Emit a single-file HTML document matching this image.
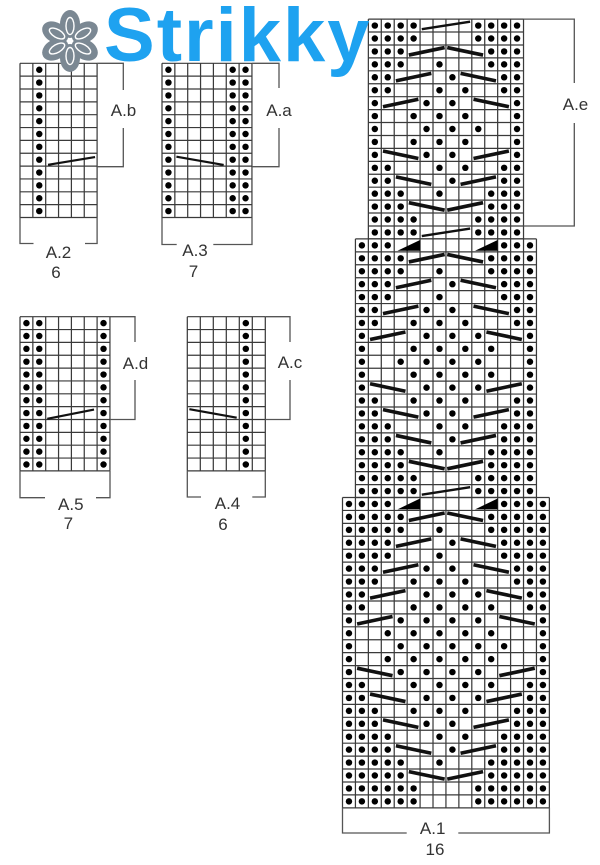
<!DOCTYPE html>
<html>
<head>
<meta charset="utf-8">
<style>
html,body{margin:0;padding:0;background:#fff;}
svg{display:block;}
.g{fill:none;stroke:#3a3a3a;stroke-width:.095}
.c{fill:none;stroke:#111;stroke-width:.28}
.t{fill:none;stroke:#111;stroke-width:.18}
.s{fill:none;stroke:#111;stroke-width:.17}
.b{fill:none;stroke:#555;stroke-width:1.3}
.lb{font-family:"Liberation Sans",Arial,sans-serif;font-size:17px;fill:#333;text-anchor:middle}
</style>
</head>
<body>
<svg width="600" height="865" viewBox="0 0 600 865" xmlns="http://www.w3.org/2000/svg">
<rect width="600" height="865" fill="#fff"/>
<defs>
<path id="g6" d="M0 0H6M0 1H6M0 2H6M0 3H6M0 4H6M0 5H6M0 6H6M0 7H6M0 8H6M0 9H6M0 10H6M0 11H6M0 12H6M0 0V12M1 0V12M2 0V12M3 0V12M4 0V12M5 0V12M6 0V12"/>
<path id="g7" d="M0 0H7M0 1H7M0 2H7M0 3H7M0 4H7M0 5H7M0 6H7M0 7H7M0 8H7M0 9H7M0 10H7M0 11H7M0 12H7M0 0V12M1 0V12M2 0V12M3 0V12M4 0V12M5 0V12M6 0V12M7 0V12"/>
<g id="col"><circle cx="0" cy=".5" r=".25"/><circle cx="0" cy="1.5" r=".25"/><circle cx="0" cy="2.5" r=".25"/><circle cx="0" cy="3.5" r=".25"/><circle cx="0" cy="4.5" r=".25"/><circle cx="0" cy="5.5" r=".25"/><circle cx="0" cy="6.5" r=".25"/><circle cx="0" cy="7.5" r=".25"/><circle cx="0" cy="8.5" r=".25"/><circle cx="0" cy="9.5" r=".25"/><circle cx="0" cy="10.5" r=".25"/><circle cx="0" cy="11.5" r=".25"/></g>
</defs>

<!-- A.2 -->
<g transform="translate(20,63.3) scale(12.85)">
<use href="#g6" class="g"/>
<use href="#col" x="1.5"/>
<path class="s" d="M2.18 7.9L5.84 7.3"/>
</g>
<path class="b" d="M97.1 63.3H123.3V90M123.3 128V166.7H97.1"/>
<text class="lb" x="123.5" y="116">A.b</text>
<path class="b" d="M20 217.5V243.5H33.5M85 243.5H97.1V217.5"/>
<text class="lb" x="58.5" y="258">A.2</text>
<text class="lb" x="56" y="278">6</text>

<!-- A.3 -->
<g transform="translate(162,63.3) scale(12.85)">
<use href="#g7" class="g"/>
<use href="#col" x=".5"/><use href="#col" x="5.5"/><use href="#col" x="6.5"/>
<path class="s" d="M1.12 7.27L4.8 7.91"/>
</g>
<path class="b" d="M252 63.3H279V88M279 128V166.7H252"/>
<text class="lb" x="279" y="116">A.a</text>
<path class="b" d="M162 217.5V244.5H176.7M213.3 244.5H252V217.5"/>
<text class="lb" x="195" y="256">A.3</text>
<text class="lb" x="193.5" y="277">7</text>

<!-- A.5 -->
<g transform="translate(20,316.7) scale(12.85)">
<use href="#g7" class="g"/>
<use href="#col" x=".5"/><use href="#col" x="1.5"/><use href="#col" x="6.5"/>
<path class="s" d="M2.12 7.95L5.76 7.23"/>
</g>
<path class="b" d="M110 316.7H135V342M135 380V419.5H110"/>
<text class="lb" x="135.5" y="369">A.d</text>
<path class="b" d="M20 470.9V497.7H45M96 497.7H110V470.9"/>
<text class="lb" x="70.8" y="510">A.5</text>
<text class="lb" x="68.3" y="529">7</text>

<!-- A.4 -->
<g transform="translate(187.3,316.7) scale(13,12.85)">
<use href="#g6" class="g"/>
<use href="#col" x="4.5"/>
<path class="s" d="M.16 7.2L3.8 7.86"/>
</g>
<path class="b" d="M265.3 316.7H290V342M290 380V419.5H265.3"/>
<text class="lb" x="290" y="368">A.c</text>
<path class="b" d="M187.3 470.9V497H201M252.3 497H265.3V470.9"/>
<text class="lb" x="227.5" y="509">A.4</text>
<text class="lb" x="223" y="530">6</text>

<!-- A.1 big chart -->
<g transform="translate(342.5,19.1) scale(12.93)">
<path class="g" d="M2 0H14M2 1H14M2 2H14M2 3H14M2 4H14M2 5H14M2 6H14M2 7H14M2 8H14M2 9H14M2 10H14M2 11H14M2 12H14M2 13H14M2 14H14M2 15H14M2 16H14M2 17H14M2 0V17M3 0V17M4 0V17M5 0V17M6 0V17M7 0V17M8 0V17M9 0V17M10 0V17M11 0V17M12 0V17M13 0V17M14 0V17"/>
<path class="g" d="M1 17H15M1 18H15M1 19H15M1 20H15M1 21H15M1 22H15M1 23H15M1 24H15M1 25H15M1 26H15M1 27H15M1 28H15M1 29H15M1 30H15M1 31H15M1 32H15M1 33H15M1 34H15M1 35H15M1 36H15M1 37H15M1 17V37M2 17V37M3 17V37M4 17V37M5 17V37M6 17V37M7 17V37M8 17V37M9 17V37M10 17V37M11 17V37M12 17V37M13 17V37M14 17V37M15 17V37"/>
<path class="g" d="M0 37H16M0 38H16M0 39H16M0 40H16M0 41H16M0 42H16M0 43H16M0 44H16M0 45H16M0 46H16M0 47H16M0 48H16M0 49H16M0 50H16M0 51H16M0 52H16M0 53H16M0 54H16M0 55H16M0 56H16M0 57H16M0 58H16M0 59H16M0 60H16M0 61H16M0 37V61M1 37V61M2 37V61M3 37V61M4 37V61M5 37V61M6 37V61M7 37V61M8 37V61M9 37V61M10 37V61M11 37V61M12 37V61M13 37V61M14 37V61M15 37V61M16 37V61"/>
<g fill="#000">
<!-- top section -->
<circle cx="2.5" cy=".5" r=".25"/><circle cx="3.5" cy=".5" r=".25"/><circle cx="4.5" cy=".5" r=".25"/><circle cx="5.5" cy=".5" r=".25"/><circle cx="10.5" cy=".5" r=".25"/><circle cx="11.5" cy=".5" r=".25"/><circle cx="12.5" cy=".5" r=".25"/><circle cx="13.5" cy=".5" r=".25"/>
<circle cx="2.5" cy="1.5" r=".25"/><circle cx="3.5" cy="1.5" r=".25"/><circle cx="4.5" cy="1.5" r=".25"/><circle cx="5.5" cy="1.5" r=".25"/><circle cx="10.5" cy="1.5" r=".25"/><circle cx="11.5" cy="1.5" r=".25"/><circle cx="12.5" cy="1.5" r=".25"/><circle cx="13.5" cy="1.5" r=".25"/>
<circle cx="2.5" cy="2.5" r=".25"/><circle cx="3.5" cy="2.5" r=".25"/><circle cx="4.5" cy="2.5" r=".25"/><circle cx="11.5" cy="2.5" r=".25"/><circle cx="12.5" cy="2.5" r=".25"/><circle cx="13.5" cy="2.5" r=".25"/>
<circle cx="2.5" cy="3.5" r=".25"/><circle cx="3.5" cy="3.5" r=".25"/><circle cx="4.5" cy="3.5" r=".25"/><circle cx="7.5" cy="3.5" r=".25"/><circle cx="11.5" cy="3.5" r=".25"/><circle cx="12.5" cy="3.5" r=".25"/><circle cx="13.5" cy="3.5" r=".25"/>
<circle cx="2.5" cy="4.5" r=".25"/><circle cx="3.5" cy="4.5" r=".25"/><circle cx="8.5" cy="4.5" r=".25"/><circle cx="12.5" cy="4.5" r=".25"/><circle cx="13.5" cy="4.5" r=".25"/>
<circle cx="2.5" cy="5.5" r=".25"/><circle cx="3.5" cy="5.5" r=".25"/><circle cx="7.5" cy="5.5" r=".25"/><circle cx="9.5" cy="5.5" r=".25"/><circle cx="12.5" cy="5.5" r=".25"/><circle cx="13.5" cy="5.5" r=".25"/>
<circle cx="2.5" cy="6.5" r=".25"/><circle cx="6.5" cy="6.5" r=".25"/><circle cx="8.5" cy="6.5" r=".25"/><circle cx="13.5" cy="6.5" r=".25"/>
<circle cx="2.5" cy="7.5" r=".25"/><circle cx="5.5" cy="7.5" r=".25"/><circle cx="7.5" cy="7.5" r=".25"/><circle cx="9.5" cy="7.5" r=".25"/><circle cx="13.5" cy="7.5" r=".25"/>
<circle cx="2.5" cy="8.5" r=".25"/><circle cx="6.5" cy="8.5" r=".25"/><circle cx="8.5" cy="8.5" r=".25"/><circle cx="10.5" cy="8.5" r=".25"/><circle cx="13.5" cy="8.5" r=".25"/>
<circle cx="2.5" cy="9.5" r=".25"/><circle cx="5.5" cy="9.5" r=".25"/><circle cx="7.5" cy="9.5" r=".25"/><circle cx="9.5" cy="9.5" r=".25"/><circle cx="13.5" cy="9.5" r=".25"/>
<circle cx="2.5" cy="10.5" r=".25"/><circle cx="6.5" cy="10.5" r=".25"/><circle cx="8.5" cy="10.5" r=".25"/><circle cx="13.5" cy="10.5" r=".25"/>
<circle cx="2.5" cy="11.5" r=".25"/><circle cx="3.5" cy="11.5" r=".25"/><circle cx="7.5" cy="11.5" r=".25"/><circle cx="9.5" cy="11.5" r=".25"/><circle cx="12.5" cy="11.5" r=".25"/><circle cx="13.5" cy="11.5" r=".25"/>
<circle cx="2.5" cy="12.5" r=".25"/><circle cx="3.5" cy="12.5" r=".25"/><circle cx="8.5" cy="12.5" r=".25"/><circle cx="12.5" cy="12.5" r=".25"/><circle cx="13.5" cy="12.5" r=".25"/>
<circle cx="2.5" cy="13.5" r=".25"/><circle cx="3.5" cy="13.5" r=".25"/><circle cx="4.5" cy="13.5" r=".25"/><circle cx="7.5" cy="13.5" r=".25"/><circle cx="11.5" cy="13.5" r=".25"/><circle cx="12.5" cy="13.5" r=".25"/><circle cx="13.5" cy="13.5" r=".25"/>
<circle cx="2.5" cy="14.5" r=".25"/><circle cx="3.5" cy="14.5" r=".25"/><circle cx="4.5" cy="14.5" r=".25"/><circle cx="11.5" cy="14.5" r=".25"/><circle cx="12.5" cy="14.5" r=".25"/><circle cx="13.5" cy="14.5" r=".25"/>
<circle cx="2.5" cy="15.5" r=".25"/><circle cx="3.5" cy="15.5" r=".25"/><circle cx="4.5" cy="15.5" r=".25"/><circle cx="5.5" cy="15.5" r=".25"/><circle cx="10.5" cy="15.5" r=".25"/><circle cx="11.5" cy="15.5" r=".25"/><circle cx="12.5" cy="15.5" r=".25"/><circle cx="13.5" cy="15.5" r=".25"/>
<circle cx="2.5" cy="16.5" r=".25"/><circle cx="3.5" cy="16.5" r=".25"/><circle cx="4.5" cy="16.5" r=".25"/><circle cx="5.5" cy="16.5" r=".25"/><circle cx="10.5" cy="16.5" r=".25"/><circle cx="11.5" cy="16.5" r=".25"/><circle cx="12.5" cy="16.5" r=".25"/><circle cx="13.5" cy="16.5" r=".25"/>
<!-- middle section -->
<circle cx="1.5" cy="17.5" r=".25"/><circle cx="2.5" cy="17.5" r=".25"/><circle cx="3.5" cy="17.5" r=".25"/><circle cx="12.5" cy="17.5" r=".25"/><circle cx="13.5" cy="17.5" r=".25"/><circle cx="14.5" cy="17.5" r=".25"/>
<circle cx="1.5" cy="18.5" r=".25"/><circle cx="2.5" cy="18.5" r=".25"/><circle cx="3.5" cy="18.5" r=".25"/><circle cx="4.5" cy="18.5" r=".25"/><circle cx="11.5" cy="18.5" r=".25"/><circle cx="12.5" cy="18.5" r=".25"/><circle cx="13.5" cy="18.5" r=".25"/><circle cx="14.5" cy="18.5" r=".25"/>
<circle cx="1.5" cy="19.5" r=".25"/><circle cx="2.5" cy="19.5" r=".25"/><circle cx="3.5" cy="19.5" r=".25"/><circle cx="4.5" cy="19.5" r=".25"/><circle cx="7.5" cy="19.5" r=".25"/><circle cx="11.5" cy="19.5" r=".25"/><circle cx="12.5" cy="19.5" r=".25"/><circle cx="13.5" cy="19.5" r=".25"/><circle cx="14.5" cy="19.5" r=".25"/>
<circle cx="1.5" cy="20.5" r=".25"/><circle cx="2.5" cy="20.5" r=".25"/><circle cx="3.5" cy="20.5" r=".25"/><circle cx="8.5" cy="20.5" r=".25"/><circle cx="12.5" cy="20.5" r=".25"/><circle cx="13.5" cy="20.5" r=".25"/><circle cx="14.5" cy="20.5" r=".25"/>
<circle cx="1.5" cy="21.5" r=".25"/><circle cx="2.5" cy="21.5" r=".25"/><circle cx="3.5" cy="21.5" r=".25"/><circle cx="7.5" cy="21.5" r=".25"/><circle cx="12.5" cy="21.5" r=".25"/><circle cx="13.5" cy="21.5" r=".25"/><circle cx="14.5" cy="21.5" r=".25"/>
<circle cx="1.5" cy="22.5" r=".25"/><circle cx="2.5" cy="22.5" r=".25"/><circle cx="6.5" cy="22.5" r=".25"/><circle cx="8.5" cy="22.5" r=".25"/><circle cx="13.5" cy="22.5" r=".25"/><circle cx="14.5" cy="22.5" r=".25"/>
<circle cx="1.5" cy="23.5" r=".25"/><circle cx="2.5" cy="23.5" r=".25"/><circle cx="5.5" cy="23.5" r=".25"/><circle cx="7.5" cy="23.5" r=".25"/><circle cx="9.5" cy="23.5" r=".25"/><circle cx="13.5" cy="23.5" r=".25"/><circle cx="14.5" cy="23.5" r=".25"/>
<circle cx="1.5" cy="24.5" r=".25"/><circle cx="6.5" cy="24.5" r=".25"/><circle cx="8.5" cy="24.5" r=".25"/><circle cx="10.5" cy="24.5" r=".25"/><circle cx="14.5" cy="24.5" r=".25"/>
<circle cx="1.5" cy="25.5" r=".25"/><circle cx="5.5" cy="25.5" r=".25"/><circle cx="7.5" cy="25.5" r=".25"/><circle cx="9.5" cy="25.5" r=".25"/><circle cx="11.5" cy="25.5" r=".25"/><circle cx="14.5" cy="25.5" r=".25"/>
<circle cx="1.5" cy="26.5" r=".25"/><circle cx="4.5" cy="26.5" r=".25"/><circle cx="6.5" cy="26.5" r=".25"/><circle cx="8.5" cy="26.5" r=".25"/><circle cx="10.5" cy="26.5" r=".25"/><circle cx="14.5" cy="26.5" r=".25"/>
<circle cx="1.5" cy="27.5" r=".25"/><circle cx="5.5" cy="27.5" r=".25"/><circle cx="7.5" cy="27.5" r=".25"/><circle cx="9.5" cy="27.5" r=".25"/><circle cx="11.5" cy="27.5" r=".25"/><circle cx="14.5" cy="27.5" r=".25"/>
<circle cx="1.5" cy="28.5" r=".25"/><circle cx="6.5" cy="28.5" r=".25"/><circle cx="8.5" cy="28.5" r=".25"/><circle cx="10.5" cy="28.5" r=".25"/><circle cx="14.5" cy="28.5" r=".25"/>
<circle cx="1.5" cy="29.5" r=".25"/><circle cx="2.5" cy="29.5" r=".25"/><circle cx="5.5" cy="29.5" r=".25"/><circle cx="7.5" cy="29.5" r=".25"/><circle cx="9.5" cy="29.5" r=".25"/><circle cx="13.5" cy="29.5" r=".25"/><circle cx="14.5" cy="29.5" r=".25"/>
<circle cx="1.5" cy="30.5" r=".25"/><circle cx="2.5" cy="30.5" r=".25"/><circle cx="6.5" cy="30.5" r=".25"/><circle cx="8.5" cy="30.5" r=".25"/><circle cx="13.5" cy="30.5" r=".25"/><circle cx="14.5" cy="30.5" r=".25"/>
<circle cx="1.5" cy="31.5" r=".25"/><circle cx="2.5" cy="31.5" r=".25"/><circle cx="3.5" cy="31.5" r=".25"/><circle cx="7.5" cy="31.5" r=".25"/><circle cx="9.5" cy="31.5" r=".25"/><circle cx="12.5" cy="31.5" r=".25"/><circle cx="13.5" cy="31.5" r=".25"/><circle cx="14.5" cy="31.5" r=".25"/>
<circle cx="1.5" cy="32.5" r=".25"/><circle cx="2.5" cy="32.5" r=".25"/><circle cx="3.5" cy="32.5" r=".25"/><circle cx="8.5" cy="32.5" r=".25"/><circle cx="12.5" cy="32.5" r=".25"/><circle cx="13.5" cy="32.5" r=".25"/><circle cx="14.5" cy="32.5" r=".25"/>
<circle cx="1.5" cy="33.5" r=".25"/><circle cx="2.5" cy="33.5" r=".25"/><circle cx="3.5" cy="33.5" r=".25"/><circle cx="4.5" cy="33.5" r=".25"/><circle cx="7.5" cy="33.5" r=".25"/><circle cx="11.5" cy="33.5" r=".25"/><circle cx="12.5" cy="33.5" r=".25"/><circle cx="13.5" cy="33.5" r=".25"/><circle cx="14.5" cy="33.5" r=".25"/>
<circle cx="1.5" cy="34.5" r=".25"/><circle cx="2.5" cy="34.5" r=".25"/><circle cx="3.5" cy="34.5" r=".25"/><circle cx="4.5" cy="34.5" r=".25"/><circle cx="11.5" cy="34.5" r=".25"/><circle cx="12.5" cy="34.5" r=".25"/><circle cx="13.5" cy="34.5" r=".25"/><circle cx="14.5" cy="34.5" r=".25"/>
<circle cx="1.5" cy="35.5" r=".25"/><circle cx="2.5" cy="35.5" r=".25"/><circle cx="3.5" cy="35.5" r=".25"/><circle cx="4.5" cy="35.5" r=".25"/><circle cx="5.5" cy="35.5" r=".25"/><circle cx="10.5" cy="35.5" r=".25"/><circle cx="11.5" cy="35.5" r=".25"/><circle cx="12.5" cy="35.5" r=".25"/><circle cx="13.5" cy="35.5" r=".25"/><circle cx="14.5" cy="35.5" r=".25"/>
<circle cx="1.5" cy="36.5" r=".25"/><circle cx="2.5" cy="36.5" r=".25"/><circle cx="3.5" cy="36.5" r=".25"/><circle cx="4.5" cy="36.5" r=".25"/><circle cx="5.5" cy="36.5" r=".25"/><circle cx="10.5" cy="36.5" r=".25"/><circle cx="11.5" cy="36.5" r=".25"/><circle cx="12.5" cy="36.5" r=".25"/><circle cx="13.5" cy="36.5" r=".25"/><circle cx="14.5" cy="36.5" r=".25"/>
<!-- bottom section -->
<circle cx=".5" cy="37.5" r=".25"/><circle cx="1.5" cy="37.5" r=".25"/><circle cx="2.5" cy="37.5" r=".25"/><circle cx="3.5" cy="37.5" r=".25"/><circle cx="12.5" cy="37.5" r=".25"/><circle cx="13.5" cy="37.5" r=".25"/><circle cx="14.5" cy="37.5" r=".25"/><circle cx="15.5" cy="37.5" r=".25"/>
<circle cx=".5" cy="38.5" r=".25"/><circle cx="1.5" cy="38.5" r=".25"/><circle cx="2.5" cy="38.5" r=".25"/><circle cx="3.5" cy="38.5" r=".25"/><circle cx="4.5" cy="38.5" r=".25"/><circle cx="11.5" cy="38.5" r=".25"/><circle cx="12.5" cy="38.5" r=".25"/><circle cx="13.5" cy="38.5" r=".25"/><circle cx="14.5" cy="38.5" r=".25"/><circle cx="15.5" cy="38.5" r=".25"/>
<circle cx=".5" cy="39.5" r=".25"/><circle cx="1.5" cy="39.5" r=".25"/><circle cx="2.5" cy="39.5" r=".25"/><circle cx="3.5" cy="39.5" r=".25"/><circle cx="4.5" cy="39.5" r=".25"/><circle cx="7.5" cy="39.5" r=".25"/><circle cx="11.5" cy="39.5" r=".25"/><circle cx="12.5" cy="39.5" r=".25"/><circle cx="13.5" cy="39.5" r=".25"/><circle cx="14.5" cy="39.5" r=".25"/><circle cx="15.5" cy="39.5" r=".25"/>
<circle cx=".5" cy="40.5" r=".25"/><circle cx="1.5" cy="40.5" r=".25"/><circle cx="2.5" cy="40.5" r=".25"/><circle cx="3.5" cy="40.5" r=".25"/><circle cx="8.5" cy="40.5" r=".25"/><circle cx="12.5" cy="40.5" r=".25"/><circle cx="13.5" cy="40.5" r=".25"/><circle cx="14.5" cy="40.5" r=".25"/><circle cx="15.5" cy="40.5" r=".25"/>
<circle cx=".5" cy="41.5" r=".25"/><circle cx="1.5" cy="41.5" r=".25"/><circle cx="2.5" cy="41.5" r=".25"/><circle cx="3.5" cy="41.5" r=".25"/><circle cx="7.5" cy="41.5" r=".25"/><circle cx="12.5" cy="41.5" r=".25"/><circle cx="13.5" cy="41.5" r=".25"/><circle cx="14.5" cy="41.5" r=".25"/><circle cx="15.5" cy="41.5" r=".25"/>
<circle cx=".5" cy="42.5" r=".25"/><circle cx="1.5" cy="42.5" r=".25"/><circle cx="2.5" cy="42.5" r=".25"/><circle cx="6.5" cy="42.5" r=".25"/><circle cx="8.5" cy="42.5" r=".25"/><circle cx="13.5" cy="42.5" r=".25"/><circle cx="14.5" cy="42.5" r=".25"/><circle cx="15.5" cy="42.5" r=".25"/>
<circle cx=".5" cy="43.5" r=".25"/><circle cx="1.5" cy="43.5" r=".25"/><circle cx="2.5" cy="43.5" r=".25"/><circle cx="5.5" cy="43.5" r=".25"/><circle cx="7.5" cy="43.5" r=".25"/><circle cx="9.5" cy="43.5" r=".25"/><circle cx="13.5" cy="43.5" r=".25"/><circle cx="14.5" cy="43.5" r=".25"/><circle cx="15.5" cy="43.5" r=".25"/>
<circle cx=".5" cy="44.5" r=".25"/><circle cx="1.5" cy="44.5" r=".25"/><circle cx="6.5" cy="44.5" r=".25"/><circle cx="8.5" cy="44.5" r=".25"/><circle cx="10.5" cy="44.5" r=".25"/><circle cx="14.5" cy="44.5" r=".25"/><circle cx="15.5" cy="44.5" r=".25"/>
<circle cx=".5" cy="45.5" r=".25"/><circle cx="1.5" cy="45.5" r=".25"/><circle cx="5.5" cy="45.5" r=".25"/><circle cx="7.5" cy="45.5" r=".25"/><circle cx="9.5" cy="45.5" r=".25"/><circle cx="11.5" cy="45.5" r=".25"/><circle cx="14.5" cy="45.5" r=".25"/><circle cx="15.5" cy="45.5" r=".25"/>
<circle cx=".5" cy="46.5" r=".25"/><circle cx="4.5" cy="46.5" r=".25"/><circle cx="6.5" cy="46.5" r=".25"/><circle cx="8.5" cy="46.5" r=".25"/><circle cx="10.5" cy="46.5" r=".25"/><circle cx="15.5" cy="46.5" r=".25"/>
<circle cx=".5" cy="47.5" r=".25"/><circle cx="3.5" cy="47.5" r=".25"/><circle cx="5.5" cy="47.5" r=".25"/><circle cx="7.5" cy="47.5" r=".25"/><circle cx="9.5" cy="47.5" r=".25"/><circle cx="11.5" cy="47.5" r=".25"/><circle cx="15.5" cy="47.5" r=".25"/>
<circle cx=".5" cy="48.5" r=".25"/><circle cx="4.5" cy="48.5" r=".25"/><circle cx="6.5" cy="48.5" r=".25"/><circle cx="8.5" cy="48.5" r=".25"/><circle cx="10.5" cy="48.5" r=".25"/><circle cx="12.5" cy="48.5" r=".25"/><circle cx="15.5" cy="48.5" r=".25"/>
<circle cx=".5" cy="49.5" r=".25"/><circle cx="3.5" cy="49.5" r=".25"/><circle cx="5.5" cy="49.5" r=".25"/><circle cx="7.5" cy="49.5" r=".25"/><circle cx="9.5" cy="49.5" r=".25"/><circle cx="11.5" cy="49.5" r=".25"/><circle cx="15.5" cy="49.5" r=".25"/>
<circle cx=".5" cy="50.5" r=".25"/><circle cx="4.5" cy="50.5" r=".25"/><circle cx="6.5" cy="50.5" r=".25"/><circle cx="8.5" cy="50.5" r=".25"/><circle cx="10.5" cy="50.5" r=".25"/><circle cx="15.5" cy="50.5" r=".25"/>
<circle cx=".5" cy="51.5" r=".25"/><circle cx="1.5" cy="51.5" r=".25"/><circle cx="5.5" cy="51.5" r=".25"/><circle cx="7.5" cy="51.5" r=".25"/><circle cx="9.5" cy="51.5" r=".25"/><circle cx="11.5" cy="51.5" r=".25"/><circle cx="14.5" cy="51.5" r=".25"/><circle cx="15.5" cy="51.5" r=".25"/>
<circle cx=".5" cy="52.5" r=".25"/><circle cx="1.5" cy="52.5" r=".25"/><circle cx="6.5" cy="52.5" r=".25"/><circle cx="8.5" cy="52.5" r=".25"/><circle cx="10.5" cy="52.5" r=".25"/><circle cx="14.5" cy="52.5" r=".25"/><circle cx="15.5" cy="52.5" r=".25"/>
<circle cx=".5" cy="53.5" r=".25"/><circle cx="1.5" cy="53.5" r=".25"/><circle cx="2.5" cy="53.5" r=".25"/><circle cx="5.5" cy="53.5" r=".25"/><circle cx="7.5" cy="53.5" r=".25"/><circle cx="9.5" cy="53.5" r=".25"/><circle cx="13.5" cy="53.5" r=".25"/><circle cx="14.5" cy="53.5" r=".25"/><circle cx="15.5" cy="53.5" r=".25"/>
<circle cx=".5" cy="54.5" r=".25"/><circle cx="1.5" cy="54.5" r=".25"/><circle cx="2.5" cy="54.5" r=".25"/><circle cx="6.5" cy="54.5" r=".25"/><circle cx="8.5" cy="54.5" r=".25"/><circle cx="13.5" cy="54.5" r=".25"/><circle cx="14.5" cy="54.5" r=".25"/><circle cx="15.5" cy="54.5" r=".25"/>
<circle cx=".5" cy="55.5" r=".25"/><circle cx="1.5" cy="55.5" r=".25"/><circle cx="2.5" cy="55.5" r=".25"/><circle cx="3.5" cy="55.5" r=".25"/><circle cx="7.5" cy="55.5" r=".25"/><circle cx="9.5" cy="55.5" r=".25"/><circle cx="12.5" cy="55.5" r=".25"/><circle cx="13.5" cy="55.5" r=".25"/><circle cx="14.5" cy="55.5" r=".25"/><circle cx="15.5" cy="55.5" r=".25"/>
<circle cx=".5" cy="56.5" r=".25"/><circle cx="1.5" cy="56.5" r=".25"/><circle cx="2.5" cy="56.5" r=".25"/><circle cx="3.5" cy="56.5" r=".25"/><circle cx="8.5" cy="56.5" r=".25"/><circle cx="12.5" cy="56.5" r=".25"/><circle cx="13.5" cy="56.5" r=".25"/><circle cx="14.5" cy="56.5" r=".25"/><circle cx="15.5" cy="56.5" r=".25"/>
<circle cx=".5" cy="57.5" r=".25"/><circle cx="1.5" cy="57.5" r=".25"/><circle cx="2.5" cy="57.5" r=".25"/><circle cx="3.5" cy="57.5" r=".25"/><circle cx="4.5" cy="57.5" r=".25"/><circle cx="7.5" cy="57.5" r=".25"/><circle cx="11.5" cy="57.5" r=".25"/><circle cx="12.5" cy="57.5" r=".25"/><circle cx="13.5" cy="57.5" r=".25"/><circle cx="14.5" cy="57.5" r=".25"/><circle cx="15.5" cy="57.5" r=".25"/>
<circle cx=".5" cy="58.5" r=".25"/><circle cx="1.5" cy="58.5" r=".25"/><circle cx="2.5" cy="58.5" r=".25"/><circle cx="3.5" cy="58.5" r=".25"/><circle cx="4.5" cy="58.5" r=".25"/><circle cx="11.5" cy="58.5" r=".25"/><circle cx="12.5" cy="58.5" r=".25"/><circle cx="13.5" cy="58.5" r=".25"/><circle cx="14.5" cy="58.5" r=".25"/><circle cx="15.5" cy="58.5" r=".25"/>
<circle cx=".5" cy="59.5" r=".25"/><circle cx="1.5" cy="59.5" r=".25"/><circle cx="2.5" cy="59.5" r=".25"/><circle cx="3.5" cy="59.5" r=".25"/><circle cx="4.5" cy="59.5" r=".25"/><circle cx="5.5" cy="59.5" r=".25"/><circle cx="10.5" cy="59.5" r=".25"/><circle cx="11.5" cy="59.5" r=".25"/><circle cx="12.5" cy="59.5" r=".25"/><circle cx="13.5" cy="59.5" r=".25"/><circle cx="14.5" cy="59.5" r=".25"/><circle cx="15.5" cy="59.5" r=".25"/>
<circle cx=".5" cy="60.5" r=".25"/><circle cx="1.5" cy="60.5" r=".25"/><circle cx="2.5" cy="60.5" r=".25"/><circle cx="3.5" cy="60.5" r=".25"/><circle cx="4.5" cy="60.5" r=".25"/><circle cx="5.5" cy="60.5" r=".25"/><circle cx="10.5" cy="60.5" r=".25"/><circle cx="11.5" cy="60.5" r=".25"/><circle cx="12.5" cy="60.5" r=".25"/><circle cx="13.5" cy="60.5" r=".25"/><circle cx="14.5" cy="60.5" r=".25"/><circle cx="15.5" cy="60.5" r=".25"/>
<!-- triangles -->
<path d="M4.25 17.92L6 17.08V17.92ZM10.25 17.92L12 17.08V17.92ZM4.25 37.92L6 37.08V37.92ZM10.25 37.92L12 37.08V37.92Z"/>
</g>
<!-- thin cables -->
<path class="t" d="M6.13 .78L9.87 .2M6.13 16.78L9.87 16.2M6.13 36.78L9.87 36.2"/>
<!-- cables -->
<path class="c" d="M5.13 2.78L7.9 2.2M8.1 2.2L10.87 2.78
M4.13 4.78L6.87 4.2M9.13 4.2L11.87 4.78
M3.13 6.78L5.87 6.2M10.13 6.2L12.87 6.78
M3.13 10.2L5.87 10.78M10.13 10.78L12.87 10.2
M4.13 12.2L6.87 12.78M9.13 12.78L11.87 12.2
M5.13 14.2L7.9 14.78M8.1 14.78L10.87 14.2
M5.13 18.78L7.9 18.2M8.1 18.2L10.87 18.78
M4.13 20.78L6.87 20.2M9.13 20.2L11.87 20.78
M3.13 22.78L5.87 22.2M10.13 22.2L12.87 22.78
M2.13 24.78L4.87 24.2M11.13 24.2L13.87 24.78
M2.13 28.2L4.87 28.78M11.13 28.78L13.87 28.2
M3.13 30.2L5.87 30.78M10.13 30.78L12.87 30.2
M4.13 32.2L6.87 32.78M9.13 32.78L11.87 32.2
M5.13 34.2L7.9 34.78M8.1 34.78L10.87 34.2
M5.13 38.78L7.9 38.2M8.1 38.2L10.87 38.78
M4.13 40.78L6.87 40.2M9.13 40.2L11.87 40.78
M3.13 42.78L5.87 42.2M10.13 42.2L12.87 42.78
M2.13 44.78L4.87 44.2M11.13 44.2L13.87 44.78
M1.13 46.78L3.87 46.2M12.13 46.2L14.87 46.78
M1.13 50.2L3.87 50.78M12.13 50.78L14.87 50.2
M2.13 52.2L4.87 52.78M11.13 52.78L13.87 52.2
M3.13 54.2L5.87 54.78M10.13 54.78L12.87 54.2
M4.13 56.2L6.87 56.78M9.13 56.78L11.87 56.2
M5.13 58.2L7.9 58.78M8.1 58.78L10.87 58.2"/>
</g>

<!-- A.e bracket -->
<path class="b" d="M523.5 19.1H574.3V83M574.3 123V226H523.5"/>
<text class="lb" x="575.5" y="110">A.e</text>
<!-- A.1 bracket -->
<path class="b" d="M342.5 807.8V833H406.7M458.3 833H549.4V807.8"/>
<text class="lb" x="432.7" y="834">A.1</text>
<text class="lb" x="435" y="855">16</text>

<!-- Logo -->
<g transform="translate(70,41)" fill="#7b8893">
<ellipse cx="0" cy="-17" rx="10" ry="14"/>
<ellipse cx="0" cy="-17" rx="10" ry="14" transform="rotate(60)"/>
<ellipse cx="0" cy="-17" rx="10" ry="14" transform="rotate(120)"/>
<ellipse cx="0" cy="-17" rx="10" ry="14" transform="rotate(180)"/>
<ellipse cx="0" cy="-17" rx="10" ry="14" transform="rotate(240)"/>
<ellipse cx="0" cy="-17" rx="10" ry="14" transform="rotate(300)"/>
<g fill="none" stroke="#fff" stroke-width="1.4">
<ellipse cx="0" cy="-15" rx="4" ry="8.5"/>
<ellipse cx="0" cy="-15" rx="4" ry="8.5" transform="rotate(60)"/>
<ellipse cx="0" cy="-15" rx="4" ry="8.5" transform="rotate(120)"/>
<ellipse cx="0" cy="-15" rx="4" ry="8.5" transform="rotate(180)"/>
<ellipse cx="0" cy="-15" rx="4" ry="8.5" transform="rotate(240)"/>
<ellipse cx="0" cy="-15" rx="4" ry="8.5" transform="rotate(300)"/>
</g>
</g>
<text x="104" y="61" font-family="'Liberation Sans', Arial, sans-serif" font-size="76" font-weight="bold" fill="#1ea2f0" letter-spacing="2">Strikky</text>
</svg>
</body>
</html>
